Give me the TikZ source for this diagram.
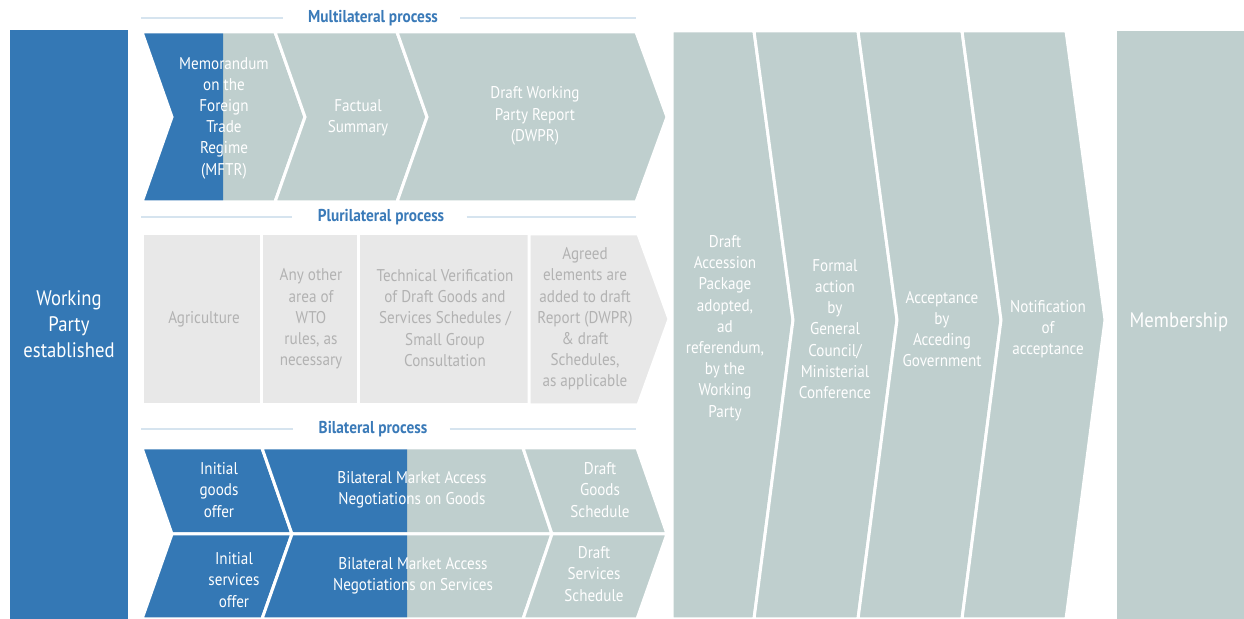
\documentclass[tikz,border=0pt]{standalone}
\usepackage{fontspec}
\setmainfont{PT Sans}[FakeStretch=0.89]
\definecolor{wtoblue}{HTML}{3478B5}
\definecolor{wtogray}{HTML}{BFCFCE}
\definecolor{plugray}{HTML}{E8E8E8}
\definecolor{plutext}{HTML}{B2B2B2}
\definecolor{rulecol}{HTML}{D6E4EF}
\definecolor{labblue}{HTML}{3A7AB8}
\tikzset{
  sep/.style={draw=white, line width=1.5pt, line join=miter},
  cell/.style={text=white, align=center, font=\fontsize{8.5}{10.6}\selectfont},
  plucell/.style={cell, text=plutext},
  bigcell/.style={text=white, align=center, font=\fontsize{10.5}{13}\selectfont},
  proclabel/.style={text=labblue, font=\fontsize{8.6}{10}\selectfont\bfseries, inner xsep=0pt},
  procline/.style={draw=rulecol, line width=1pt}
}
\begin{document}
\begin{tikzpicture}[x=0.5pt,y=-0.5pt]
    \useasboundingbox (0,0) rectangle (1244,619);

    % Working Party established
    \fill[wtoblue] (10,30) rectangle (128,619);
    \node[bigcell] (wp) at (69,324) {Working\\Party\\established};

    % multilateral process
    \node[proclabel] (mlab) at (373,18) {Multilateral process};
    \draw[procline] (141,18) -- ([xshift=-12.5pt]mlab.west);
    \draw[procline] ([xshift=11pt]mlab.east) -- (636,18);

    \fill[wtogray] (142,32) -- (275,32) -- (305,117) -- (275,202) -- (142,202) -- (172,117) -- cycle;
    \fill[wtoblue] (142,32) -- (223,32) -- (223,202) -- (142,202) -- (172,117) -- cycle;
    \draw[sep] (142,32) -- (275,32) -- (305,117) -- (275,202) -- (142,202) -- (172,117) -- cycle;
    \draw[sep, fill=wtogray] (275,32) -- (397,32) -- (427,117) -- (397,202) -- (275,202) -- (305,117) -- cycle;
    \draw[sep, fill=wtogray] (397,32) -- (636,32) -- (667,117) -- (636,202) -- (397,202) -- (427,117) -- cycle;
    \node[cell] (mftr) at (224,118) {Memorandum\\on the\\Foreign\\Trade\\Regime\\(MFTR)};
    \node[cell] (fs) at (358,118) {Factual\\Summary};
    \node[cell] (dwpr) at (535,116) {Draft Working\\Party Report\\(DWPR)};

    % plurilateral process
    \node[proclabel] (plab) at (381,217) {Plurilateral process};
    \draw[procline] (141,217) -- ([xshift=-12.5pt]plab.west);
    \draw[procline] ([xshift=11pt]plab.east) -- (636,217);

    \draw[sep, fill=plugray] (142,234) rectangle (261,405);
    \draw[sep, fill=plugray] (261,234) rectangle (358,405);
    \draw[sep, fill=plugray] (358,234) rectangle (529,405);
    \draw[sep, fill=plugray] (529,234) -- (638,234) -- (669,319) -- (638,405) -- (529,405) -- cycle;
    \node[plucell] (agr) at (204,319) {Agriculture};
    \node[plucell] (wto) at (311,319) {Any other\\area of\\WTO\\rules, as\\necessary};
    \node[plucell] (tv) at (445,318) {Technical Verification\\of Draft Goods and\\Services Schedules /\\Small Group\\Consultation};
    \node[plucell] (agd) at (585,319) {Agreed\\elements are\\added to draft\\Report (DWPR)\\\& draft\\Schedules,\\as applicable};

    % bilateral process
    \node[proclabel] (blab) at (373,429) {Bilateral process};
    \draw[procline] (141,429) -- ([xshift=-12.5pt]blab.west);
    \draw[procline] ([xshift=11pt]blab.east) -- (636,429);

    \draw[sep, fill=wtoblue] (142,448) -- (262,448) -- (292,534) -- (172,534) -- cycle;
    \fill[wtogray] (262,448) -- (523,448) -- (552,534) -- (292,534) -- cycle;
    \fill[wtoblue] (262,448) -- (407,448) -- (407,534) -- (292,534) -- cycle;
    \draw[sep] (262,448) -- (523,448) -- (552,534) -- (292,534) -- cycle;
    \draw[sep, fill=wtogray] (523,448) -- (637,448) -- (667,534) -- (552,534) -- cycle;

    \draw[sep, fill=wtoblue] (172,534) -- (292,534) -- (262,619) -- (142,619) -- cycle;
    \fill[wtogray] (292,534) -- (552,534) -- (523,619) -- (262,619) -- cycle;
    \fill[wtoblue] (292,534) -- (407,534) -- (407,619) -- (262,619) -- cycle;
    \draw[sep] (292,534) -- (552,534) -- (523,619) -- (262,619) -- cycle;
    \draw[sep, fill=wtogray] (552,534) -- (667,534) -- (637,619) -- (523,619) -- cycle;

    \node[cell] (igo) at (219,490) {Initial\\goods\\offer};
    \node[cell] (bmg) at (412,490) {Bilateral Market Access\\Negotiations on Goods};
    \node[cell] (dgs) at (600,490) {Draft\\Goods\\Schedule};
    \node[cell] (iso) at (234,580) {Initial\\services\\offer};
    \node[cell] (bms) at (413,576) {Bilateral Market Access\\Negotiations on Services};
    \node[cell] (dss) at (594,574) {Draft\\Services\\Schedule};

    % final steps
    \draw[sep, fill=wtogray] (672,31) -- (754,31) -- (793,320) -- (754,619) -- (672,619) -- cycle;
    \draw[sep, fill=wtogray] (754,31) -- (858,31) -- (897,320) -- (858,619) -- (754,619) -- (793,320) -- cycle;
    \draw[sep, fill=wtogray] (858,31) -- (962,31) -- (1001,320) -- (962,619) -- (858,619) -- (897,320) -- cycle;
    \draw[sep, fill=wtogray] (962,31) -- (1066,31) -- (1105,320) -- (1066,619) -- (962,619) -- (1001,320) -- cycle;
    \fill[wtogray] (1117,31) rectangle (1244,619);
    \node[cell] (dap) at (725,328) {Draft\\Accession\\Package\\adopted,\\ad\\referendum,\\by the\\Working\\Party};
    \node[cell] (fa) at (835,329) {Formal\\action\\by\\General\\Council/\\Ministerial\\Conference};
    \node[cell] (acc) at (942,329) {Acceptance\\by\\Acceding\\Government};
    \node[cell] (noa) at (1048,329) {Notification\\of\\acceptance};
    \node[bigcell] (mem) at (1179,322) {Membership};
\end{tikzpicture}
\end{document}
